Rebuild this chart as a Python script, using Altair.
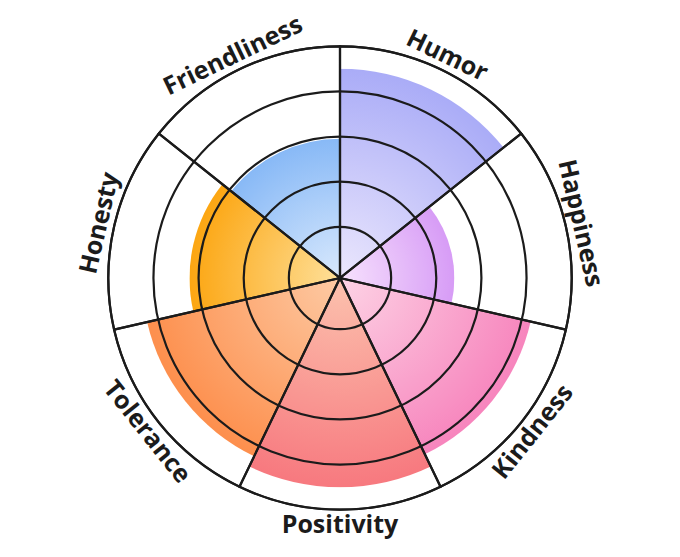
import math
import altair as alt
import pandas as pd

# ---- data ----
categories = ["Humor", "Happiness", "Kindness", "Positivity", "Tolerance", "Honesty", "Friendliness"]
scores = [4.5, 2.4, 4.2, 4.5, 4.25, 3.2, 2.95]
rings = [1, 2, 3, 4, 5]
max_score = 5

# ---- styles ----
outer_colors = ["#aaacf7", "#d79cf6", "#f785bd", "#f7797f", "#fd8f4d", "#fca612", "#88b9f6"]
inner_colors = ["#ebe7fd", "#f7e2fd", "#fdd3e5", "#fcc2ae", "#fdcaa4", "#fee09a", "#d9e9fd"]
INK = "#1b1b1b"
R0, R1 = 6, 231.7          # radius scale range (pixels)
CX, CY = 332, 270          # chart centre
n = len(categories)

df = pd.DataFrame({
    "category": categories,
    "score": scores,
    "start": list(range(n)),
    "end": [i + 1 for i in range(n)],
    "mid": [i + 0.5 for i in range(n)],
    "full": [max_score] * n,
})
ring_df = pd.DataFrame({"ring": rings, "t0": [0] * len(rings), "t1": [n] * len(rings)})

theta_scale = alt.Scale(domain=[0, n], range=[0, 2 * math.pi])
radius_scale = alt.Scale(type="linear", domain=[0, max_score], range=[R0, R1])


def sector_gradient(i, value, inner, outer):
    R = R0 + value * (R1 - R0) / max_score
    a0 = 2 * math.pi * i / n
    a1 = 2 * math.pi * (i + 1) / n
    angles = [a0, a1] + [k * math.pi / 2 for k in range(5) if a0 < k * math.pi / 2 < a1]
    pts = [(0.0, 0.0)] + [(R * math.sin(a), -R * math.cos(a)) for a in angles]
    xs = [p[0] for p in pts]
    ys = [p[1] for p in pts]
    s = max(max(xs) - min(xs), max(ys) - min(ys))
    bx = (max(xs) + min(xs)) / 2
    by = (max(ys) + min(ys)) / 2
    u = 0.5 - bx / s
    v = 0.5 - by / s
    return alt.Gradient(
        gradient="radial",
        stops=[alt.GradientStop(color=inner, offset=0),
               alt.GradientStop(color=outer, offset=1)],
        x1=u, y1=v, r1=0, x2=u, y2=v, r2=R / s,
    )


base = alt.Chart(df).encode(x=alt.value(CX), y=alt.value(CY))

sector_layers = []
for i, cat in enumerate(categories):
    sector_layers.append(
        base.transform_filter(alt.datum.category == cat)
        .mark_arc(fill=sector_gradient(i, scores[i], inner_colors[i], outer_colors[i]))
        .encode(
            theta=alt.Theta("start:Q", scale=theta_scale),
            theta2="end:Q",
            radius=alt.Radius("score:Q", scale=radius_scale),
            radius2=alt.value(0),
        )
    )

ring_layer = alt.Chart(ring_df).mark_arc(fillOpacity=0, stroke=INK, strokeWidth=2.2).encode(
    x=alt.value(CX), y=alt.value(CY),
    theta=alt.Theta("t0:Q", scale=theta_scale),
    theta2="t1:Q",
    radius=alt.Radius("ring:Q", scale=radius_scale),
    radius2=alt.value(0),
)

outline_layer = base.mark_arc(fillOpacity=0, stroke=INK, strokeWidth=2.2).encode(
    theta=alt.Theta("start:Q", scale=theta_scale),
    theta2="end:Q",
    radius=alt.Radius("full:Q", scale=radius_scale),
    radius2=alt.value(0),
)

label_layer = (
    base.transform_calculate(a="datum.mid * 360 / %d" % n)
    .transform_calculate(rot="((datum.a > 90 && datum.a < 270) ? datum.a + 180 : datum.a) % 360")
    .mark_text(font="Open Sans", fontWeight="bold", fontSize=25, color=INK,
               align="center", baseline="middle", radiusOffset=15)
    .encode(
        theta=alt.Theta("mid:Q", scale=theta_scale),
        radius=alt.Radius("full:Q", scale=radius_scale),
        angle=alt.Angle("rot:Q", scale=None),
        text="category:N",
    )
)

chart = alt.layer(*sector_layers, ring_layer, outline_layer, label_layer).properties(
    width=664, height=540, autosize="none", padding=0
).configure_view(stroke=None)

chart.save("out.html", embed_options={"renderer": "svg", "actions": False})
